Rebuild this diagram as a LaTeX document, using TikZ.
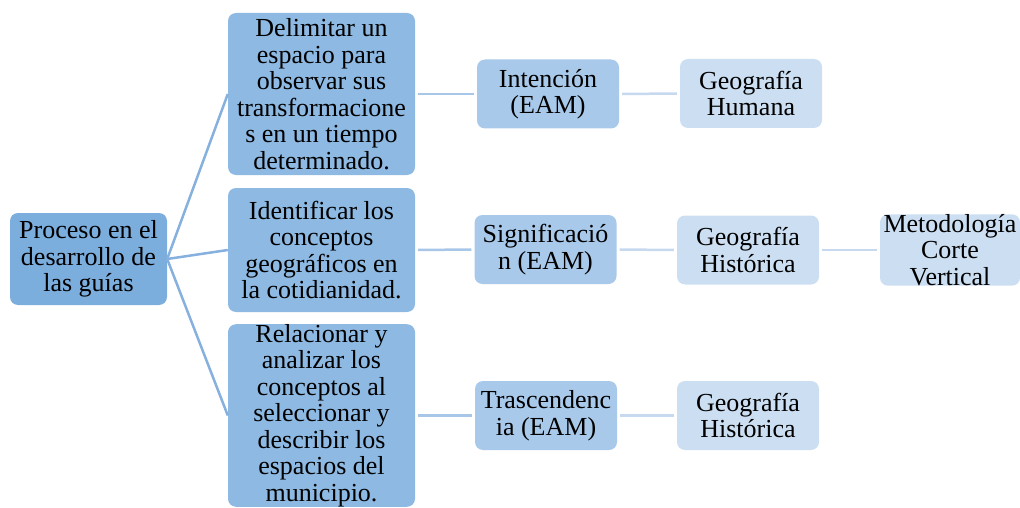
\documentclass[tikz,border=0pt]{standalone}
\usepackage{fontspec}
\setmainfont{Liberation Serif}
\usetikzlibrary{positioning}
\definecolor{rootblue}{HTML}{7BADDD}
\definecolor{stepblue}{HTML}{8DB9E2}
\definecolor{midblue}{HTML}{A9C9EA}
\definecolor{paleblue}{HTML}{CCDFF2}
\definecolor{fanline}{HTML}{86B0DE}
\definecolor{midline}{HTML}{A8C6E8}
\definecolor{paleline}{HTML}{C6D9EF}
\tikzset{
  box/.style={rectangle, rounded corners=8pt, inner sep=0pt, align=center,
    font=\fontsize{26}{26.5}\selectfont},
  vroot/.style={box, fill=rootblue, minimum width=157pt, minimum height=92pt},
  vstep/.style={box, fill=stepblue, minimum width=187pt},
  vmid/.style={box, fill=midblue, minimum width=142pt, minimum height=69pt},
  vpale/.style={box, fill=paleblue, minimum width=142pt, minimum height=69pt},
  link/.style={line width=2.5pt},
  gap/.style={shorten >=3pt, shorten <=3pt}
}
\begin{document}
\begin{tikzpicture}[x=1pt, y=-1pt]
\useasboundingbox (0,0) rectangle (1020,508);

% root and first level
\node[vroot] (root) at (88.5, 259) {Proceso en el\\desarrollo de\\las guías};
\node[vstep, minimum height=162pt] (s1) at (321.5, 94) {Delimitar un\\espacio para\\observar sus\\transformacione\\s en un tiempo\\determinado.};
\node[vstep, minimum height=124pt] (s2) at (321.5, 250) {Identificar los\\conceptos\\geográficos en\\la cotidianidad.};
\node[vstep, minimum height=179pt] (s3) at (321.5, 415.5) {Relacionar y\\analizar los\\conceptos al\\seleccionar y\\describir los\\espacios del\\municipio.};

% second level
\node[vmid] (e1) at (548, 94) {Intención\\(EAM)};
\node[vmid] (e2) at (545.5, 249.5) {Significació\\n (EAM)};
\node[vmid] (e3) at (546, 415.5) {Trascendenc\\ia (EAM)};

% third level
\node[vpale] (g1) at (751, 93.5) {Geografía\\Humana};
\node[vpale] (g2) at (748, 250) {Geografía\\Histórica};
\node[vpale] (g3) at (748, 415.5) {Geografía\\Histórica};
\node[vpale, minimum width=140pt, minimum height=68pt] (m1) at (950, 250) {Metodología\\Corte\\Vertical};

% connectors
\begin{scope}[fanline, link]
\draw (root.east) -- (s1.west);
\draw (root.east) -- (s2.west);
\draw (root.east) -- (s3.west);
\end{scope}
\begin{scope}[midline, link, gap]
\draw (s1.east) -- (e1.west);
\draw (s2.east) -- (e2.west);
\draw (s3.east) -- (e3.west);
\end{scope}
\begin{scope}[paleline, link, gap]
\draw (e1.east) -- (g1.west);
\draw (e2.east) -- (g2.west);
\draw (e3.east) -- (g3.west);
\draw (g2.east) -- (m1.west);
\end{scope}
\end{tikzpicture}
\end{document}
